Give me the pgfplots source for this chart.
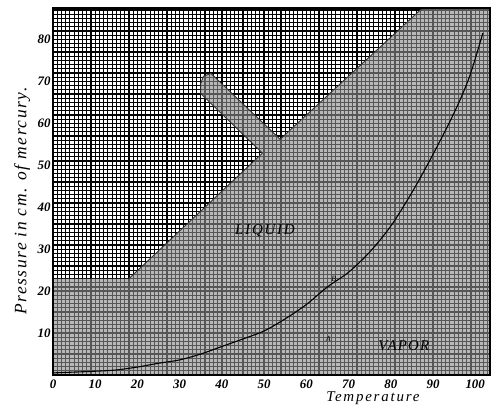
\documentclass[border=0pt]{standalone}
\usepackage{fontspec}
\setmainfont{Liberation Serif}
\usepackage{pgfplots}
\pgfplotsset{compat=1.18}
\begin{document}
\begin{tikzpicture}
\begin{axis}[
  scale only axis, width=437bp, height=367bp,
  xmin=0, xmax=103.5, ymin=0, ymax=87.5,
  clip=false,
  xtick={0,10,...,100}, ytick={0,10,...,80},
  yticklabels={,10,20,30,40,50,60,70,80},
  minor xtick={0,1,...,103}, minor ytick={0,1,...,87},
  grid=both,
  major grid style={black, line width=1.3bp},
  minor grid style={black, line width=1.2bp},
  major tick length=0pt, minor tick length=0pt,
  axis line style={draw=none},
  /pgf/number format/assume math mode=true,
  ticklabel style={font=\fontsize{13}{13}\selectfont\bfseries\itshape},
  xticklabel style={yshift=-1bp},
  yticklabel style={xshift=1bp},
  xlabel={Temperature},
  xlabel style={at={(rel axis cs:0.732,0)}, anchor=north, yshift=-13bp,
    font=\fontsize{15}{15}\selectfont\itshape\addfontfeature{LetterSpace=12}},
  ylabel={Pressure in cm. of mercury.},
  ylabel style={at={(rel axis cs:0,0.474)}, anchor=center, yshift=31bp,
    font=\fontsize{17.5}{17.5}\selectfont\itshape\addfontfeature{LetterSpace=9}},
]
% light (liquid / vapor) region
\addplot[draw=none, fill=black!45, fill opacity=0.62] coordinates {
 (0,0) (103.5,0) (103.5,87.5) (87.5,87.5) (53.8,56.2) (37.4,71.9)
 (35.6,71.2) (35,69.5) (35,67.1) (49.6,52.9) (18,23) (0,23)} -- cycle;
% boundary of dark region
\addplot[black!80, line width=0.9bp] coordinates {
 (18,23) (49.6,52.9) (35,67.1) (35,69.5) (35.6,71.2) (37.4,71.9) (53.8,56.2) (87.5,87.5)};
% vapour pressure curve
\addplot[black, line width=1.1bp, smooth] coordinates {
 (0,0.5) (10,0.9) (15,1.2) (20,1.9) (25,2.8) (30,3.6) (35,5.0) (40,6.8)
 (45,8.6) (50,10.5) (55,13.4) (60,16.8) (65,21.0) (70,24.5) (75,29.3)
 (80,35.5) (85,43.5) (90,52.6) (95,62.5) (98.6,71) (101.8,81.5)};
\node[font=\fontsize{15}{15}\selectfont\itshape\addfontfeature{LetterSpace=12}] at (axis cs:50.2,34.5) {LIQUID};
\node[font=\fontsize{15}{15}\selectfont\itshape\addfontfeature{LetterSpace=8}] at (axis cs:83.1,7.1) {VAPOR};
\node[font=\fontsize{8}{8}\selectfont\itshape] at (axis cs:66.5,22.8) {B};
\node[font=\fontsize{8}{8}\selectfont\itshape] at (axis cs:65.2,8.6) {A};
\draw[black, line width=1.3bp] (rel axis cs:0,0) rectangle (rel axis cs:1,1);
\path (rel axis cs:0,0) ++(-53bp,-31bp) coordinate (bbA);
\path (rel axis cs:1,1) ++(9bp,8bp) coordinate (bbB);
\end{axis}
\useasboundingbox (bbA) rectangle (bbB);
\end{tikzpicture}
\end{document}
